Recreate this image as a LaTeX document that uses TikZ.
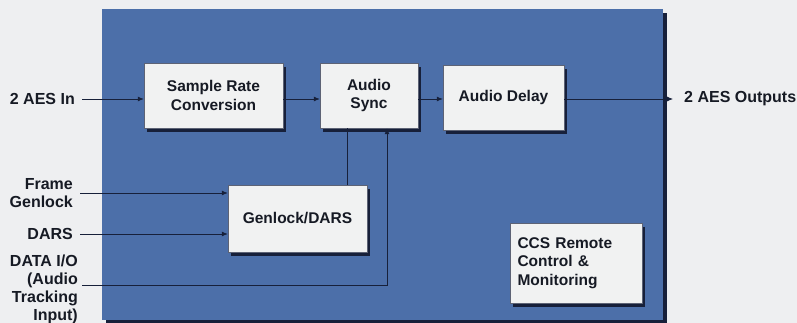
\documentclass[tikz,border=0pt]{standalone}
\usepackage{fontspec}
\setmainfont{Liberation Sans}
\usetikzlibrary{arrows.meta}
\definecolor{bgc}{HTML}{EEEFF1}
\definecolor{panelc}{HTML}{4C6FA9}
\definecolor{navy}{HTML}{17203A}
\definecolor{boxc}{HTML}{F1F2F2}
\definecolor{inkc}{HTML}{161A24}
\tikzset{
  blk/.style={draw=navy!70, line width=0.4pt, fill=boxc, inner sep=0pt,
    align=center, font=\bfseries\fontsize{15.5}{18.5}\selectfont, text=inkc,
    preaction={fill=navy, draw=none, transform canvas={xshift=3pt,yshift=-4pt}}},
  lbl/.style={font=\bfseries\fontsize{16}{18}\selectfont, text=inkc, inner sep=0pt},
  wire/.style={draw=navy, line width=0.8pt},
  arr/.style={wire, -{Latex[length=6pt,width=5pt]}},
}
\begin{document}
\begin{tikzpicture}[x=1pt,y=-1pt]
\useasboundingbox[fill=bgc] (0,0) rectangle (797,323);
% panel with shadow
\fill[navy] (106,13) rectangle (667,323);
\fill[panelc] (102,9) rectangle (663,320);

\node[blk, minimum width=139pt, minimum height=65pt] (src) at (213.5,95.5) {Sample Rate\\Conversion};
\node[blk, minimum width=98pt, minimum height=65pt] (sync) at (369,95.5) {Audio\\Sync};
\node[blk, minimum width=121pt, minimum height=65pt] (delay) at (503.5,97.5) {Audio Delay};
\node[blk, minimum width=139pt, minimum height=67pt] (gen) at (297.5,218.5) {Genlock/DARS};
\node[blk, minimum width=132pt, minimum height=80pt, text width=117pt, align=left] (ccs) at (576,263) {CCS Remote\\Control \&\\Monitoring};

% free ends
\coordinate (row) at (0,99);
\coordinate (in1) at (82,99);
\coordinate (out1) at (673,99);
\coordinate (fg) at (80,193);
\coordinate (da) at (80,234);
\coordinate (dio) at (82,285);
\coordinate (gx) at (347,0);
\coordinate (dx) at (387,0);

% labels
\node[lbl, anchor=east] (lin) at (75,99) {2 AES In};
\node[lbl, anchor=west] (lout) at (684,99) {2 AES Outputs};
\node[lbl, anchor=east, align=right] (lfg) at (73,193) {Frame\\Genlock};
\node[lbl, anchor=east] (lda) at (73,234) {DARS};
\node[lbl, anchor=east, align=right] (ldio) at (78,289) {DATA I/O\\(Audio\\Tracking\\Input)};

% connectors
\draw[arr] (in1) -- (src.west |- row);
\draw[arr] (src.east |- row) -- (sync.west |- row);
\draw[arr] (sync.east |- row) -- (delay.west |- row);
\draw[arr] (delay.east |- row) -- (out1);
\draw[arr] (fg) -- (gen.west |- fg);
\draw[arr] (da) -- (gen.west |- da);
\draw[wire] (gen.north -| gx) -- (sync.south -| gx);
\draw[arr] (dio) -| (sync.south -| dx);
\end{tikzpicture}
\end{document}
